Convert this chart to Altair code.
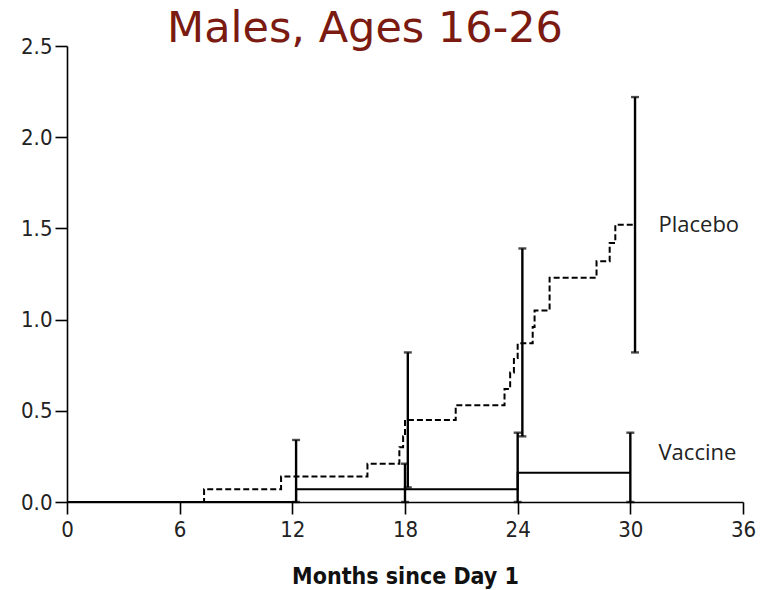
import altair as alt
import pandas as pd

# Cumulative incidence (%) step curves, month of each step and level after it
placebo_month = [0, 7.3, 11.4, 16.0, 17.7, 17.9, 18.0, 20.7, 23.3, 23.6, 23.8, 24.0,
                 24.8, 24.9, 25.7, 28.2, 28.9, 29.2, 30.25]
placebo_value = [0, 0.07, 0.14, 0.21, 0.30, 0.36, 0.45, 0.53, 0.62, 0.71, 0.79, 0.87,
                 0.96, 1.05, 1.23, 1.32, 1.42, 1.52, 1.52]
vaccine_month = [0, 12.2, 24.0, 30.0]
vaccine_value = [0, 0.07, 0.16, 0.16]

# 95% confidence intervals
placebo_ci_month = [18.15, 24.25, 30.25]
placebo_ci_low = [0.08, 0.36, 0.82]
placebo_ci_high = [0.82, 1.39, 2.22]
vaccine_ci_month = [12.2, 18.0, 24.0, 30.0]
vaccine_ci_low = [0.0, 0.0, 0.0, 0.0]
vaccine_ci_high = [0.34, 0.21, 0.38, 0.38]

# Group labels
label_text = ["Placebo", "Vaccine"]
label_month = [31.5, 31.5]
label_value = [1.52, 0.27]

x_ticks = [0, 6, 12, 18, 24, 30, 36]
y_ticks = [0.0, 0.5, 1.0, 1.5, 2.0, 2.5]

placebo = pd.DataFrame({"month": placebo_month, "value": placebo_value})
vaccine = pd.DataFrame({"month": vaccine_month, "value": vaccine_value})
ci = pd.DataFrame({
    "month": placebo_ci_month + vaccine_ci_month,
    "low": placebo_ci_low + vaccine_ci_low,
    "high": placebo_ci_high + vaccine_ci_high,
})
labels = pd.DataFrame({"text": label_text, "month": label_month, "value": label_value})

tick_font = "DejaVu Sans Condensed, Liberation Sans Narrow, sans-serif"

x_scale = alt.Scale(domain=[0, 36], nice=False)
y_scale = alt.Scale(domain=[0, 2.5], nice=False)

x_axis = alt.Axis(values=x_ticks, title="Months since Day 1", grid=False,
                  domainColor="black", domainWidth=1.6, tickColor="black",
                  tickWidth=1.6, tickSize=12, labelFont=tick_font, labelFontSize=22,
                  labelColor="#222", labelPadding=5, labelFlush=False,
                  titleFont=tick_font, titleFontSize=23, titleFontWeight="bold",
                  titleColor="#111", titlePadding=25)
y_axis = alt.Axis(values=y_ticks, format=".1f", title=None, grid=False,
                  domainColor="black", domainWidth=1.6, tickColor="black",
                  tickWidth=1.6, tickSize=12, labelFont=tick_font, labelFontSize=22,
                  labelColor="#222", labelPadding=3, labelFlush=False)

placebo_line = alt.Chart(placebo).mark_line(
    interpolate="step-after", color="black", strokeWidth=2, strokeDash=[6, 3]
).encode(
    x=alt.X("month:Q", scale=x_scale, axis=x_axis),
    y=alt.Y("value:Q", scale=y_scale, axis=y_axis),
)

vaccine_line = alt.Chart(vaccine).mark_line(
    interpolate="step-after", color="black", strokeWidth=2
).encode(
    x=alt.X("month:Q", scale=x_scale),
    y=alt.Y("value:Q", scale=y_scale),
)

ci_rule = alt.Chart(ci).mark_rule(color="black", strokeWidth=2.4).encode(
    x=alt.X("month:Q", scale=x_scale),
    y=alt.Y("low:Q", scale=y_scale),
    y2="high:Q",
)

cap_low = alt.Chart(ci).mark_tick(
    color="black", orient="horizontal", size=8, thickness=2.4
).encode(x=alt.X("month:Q", scale=x_scale), y=alt.Y("low:Q", scale=y_scale))

cap_high = alt.Chart(ci).mark_tick(
    color="black", orient="horizontal", size=8, thickness=2.4
).encode(x=alt.X("month:Q", scale=x_scale), y=alt.Y("high:Q", scale=y_scale))

label_marks = alt.Chart(labels).mark_text(
    align="left", baseline="middle", font="Open Sans", fontSize=22, color="#222"
).encode(
    x=alt.X("month:Q", scale=x_scale),
    y=alt.Y("value:Q", scale=y_scale),
    text="text:N",
)

heading = alt.Chart(pd.DataFrame({"t": ["Males, Ages 16-26"]})).mark_text(
    align="center", baseline="middle", font="DejaVu Sans", fontSize=43, color="#7a1a10"
).encode(x=alt.value(298), y=alt.value(-17), text="t:N")

chart = alt.layer(
    placebo_line, vaccine_line, ci_rule, cap_low, cap_high, label_marks, heading
).properties(
    width=676, height=456,
    padding={"left": 67, "top": 46, "right": 29, "bottom": 88},
    autosize=alt.AutoSizeParams(type="none"),
    background="white",
).configure_view(stroke=None)

chart.save("out.html", embed_options={"renderer": "svg", "actions": False})
